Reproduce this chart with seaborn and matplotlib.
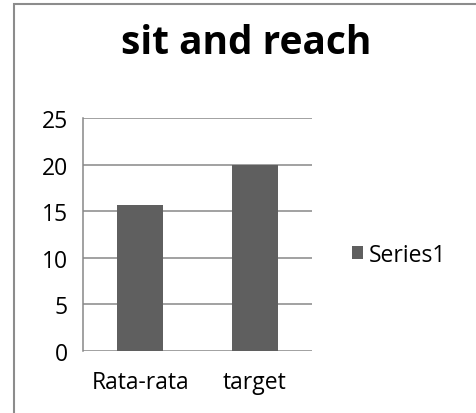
import matplotlib
matplotlib.use("Agg")
import matplotlib.pyplot as plt
from matplotlib.patches import Rectangle
import seaborn as sns
import pandas as pd

categories = ["Rata-rata", "target"]
values = [15.7, 20]
series_name = "Series1"
y_ticks = [0, 5, 10, 15, 20, 25]

sns.set_theme(style="white")
plt.rcParams["font.family"] = ["Open Sans", "DejaVu Sans"]
plt.rcParams["text.color"] = "black"

W, H, DPI = 477, 414, 100
fig = plt.figure(figsize=(W / DPI, H / DPI), dpi=DPI)
fig.patch.set_facecolor("white")

# plot area in pixel coordinates
left, right, top, bottom = 83, 312, 119, 352
ax = fig.add_axes([left / W, 1 - bottom / H, (right - left) / W, (bottom - top) / H])

df = pd.DataFrame({"category": categories, "value": values, "series": series_name})
bar_color = "#5f5f5f"
grid_color = "#878787"
sns.barplot(data=df, x="category", y="value", hue="series", palette=[bar_color],
            width=0.4, ax=ax, zorder=3, legend=False, saturation=1,
            linewidth=0, edgecolor=bar_color)

ax.set_ylim(0, 25)
ax.set_xlim(-0.5, 1.5)
ax.set_yticks(y_ticks)
ax.set_yticklabels([str(t) for t in y_ticks])
ax.set_xlabel("")
ax.set_ylabel("")
for t in y_ticks:
    ax.axhline(t, color=grid_color, linewidth=1.1, zorder=1)
for s in ["top", "right", "bottom"]:
    ax.spines[s].set_visible(False)
ax.spines["left"].set_color(grid_color)
ax.spines["left"].set_linewidth(1.1)
ax.tick_params(axis="both", length=0, labelsize=16.5, labelcolor="black")
ax.tick_params(axis="y", pad=11)
ax.tick_params(axis="x", pad=14)

# legend
handle = Rectangle((0, 0), 1, 1, facecolor=bar_color, edgecolor="none")
leg = fig.legend([handle], [series_name], loc="center left",
                 bbox_to_anchor=(352 / W, 1 - 256 / H), frameon=False,
                 fontsize=16.5, handlelength=0.5, handleheight=0.5, handletextpad=0.25,
                 borderaxespad=0, borderpad=0, labelcolor="black")

fig.text(246 / W, 1 - 43 / H, "sit and reach", ha="center", va="center",
         fontsize=28, fontweight="bold", color="black")

# chart frame
fig.add_artist(Rectangle((14 / W, -0.1), 1.2, 1 - 5 / H + 0.1,
                         transform=fig.transFigure, fill=False,
                         edgecolor="#8c8c8c", linewidth=1.5))

fig.savefig("out.png", dpi=DPI)
